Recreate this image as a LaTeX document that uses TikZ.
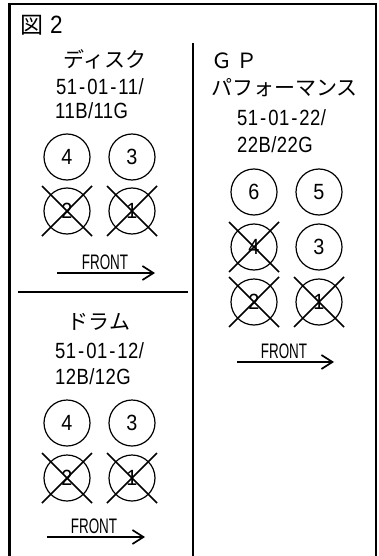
\documentclass[tikz,border=0pt]{standalone}
\usepackage{fontspec}
\setmainfont{Liberation Sans}
\newfontfamily\jp{Noto Sans CJK JP}
\newfontfamily\lat[FakeStretch=0.84,LetterSpace=2]{Liberation Sans}
\newfontfamily\dig[FakeStretch=0.9]{Liberation Sans}
\newfontfamily\fr[FakeStretch=0.64]{Liberation Sans}
\newcommand{\hy}{\hspace{2pt}-\hspace{2pt}}
\usetikzlibrary{arrows.meta}
\begin{document}
\begin{tikzpicture}[x=1pt,y=-1pt,
  frame/.style={line width=2.6pt},
  divider/.style={line width=1.3pt},
  hole/.style={circle,draw,line width=1.2pt,minimum size=46pt,inner sep=0pt,font=\dig\fontsize{22}{22}\selectfont},
  crossed/.style={hole,append after command={
     (\tikzlastnode.center) ++(-25,-25) edge[line width=1.5pt] ++(50,50)
     (\tikzlastnode.center) ++(25,-25) edge[line width=1.5pt] ++(-50,50)}},
  jptxt/.style={font=\jp\fontsize{21}{21}\selectfont,inner sep=0pt},
  num/.style={font=\lat\fontsize{22}{22}\selectfont,inner sep=0pt},
  fronttxt/.style={font=\fr\fontsize{21}{21}\selectfont,inner sep=0pt},
  arr/.style={line width=1.7pt,-{Straight Barb[length=11pt,width=14pt,line width=1.7pt]}}
]
\useasboundingbox (0,0) rectangle (379,556);
% frame
\coordinate (fbl) at (9.5,557);
\coordinate (ftl) at (9.5,4);
\coordinate (ftr) at (376,4);
\coordinate (fbr) at (376,557);
\draw[frame] (fbl) -- (ftl) -- (ftr) -- (fbr);
% header
\node[jptxt,font=\jp\fontsize{23}{23}\selectfont,anchor=west] (hdr) at (20,25) {図};
\node[num,font=\dig\fontsize{25}{25}\selectfont,anchor=west] (hdr2) at (50,25) {2};
% dividers
\coordinate (vd1) at (193,43);
\coordinate (vd2) at (193,557);
\draw[divider] (vd1) -- (vd2);
\coordinate (hd1) at (18,292);
\coordinate (hd2) at (188,292);
\draw[divider] (hd1) -- (hd2);

% left upper: disk
\node[jptxt] (t1) at (105,59) {ディスク};
\node[num,anchor=west] (t1a) at (56,87) {51\hy 01\hy 11/};
\node[num,anchor=west] (t1b) at (55,111) {11B/11G};
\node[hole] (d4) at (67,157) {4};
\node[hole] (d3) at (132,157) {3};
\node[crossed] (d2) at (67,211) {2};
\node[crossed] (d1) at (132,211) {1};
\node[fronttxt] (f1) at (105,262) {FRONT};
\coordinate (a1s) at (57,273);
\coordinate (a1e) at (155,273);
\draw[arr] (a1s) -- (a1e);

% left lower: drum
\node[jptxt] (t2) at (99,322) {ドラム};
\node[num,anchor=west] (t2a) at (55,351) {51\hy 01\hy 12/};
\node[num,anchor=west] (t2b) at (55,377) {12B/12G};
\node[hole] (r4) at (67,423) {4};
\node[hole] (r3) at (132,423) {3};
\node[crossed] (r2) at (67,478) {2};
\node[crossed] (r1) at (132,478) {1};
\node[fronttxt] (f2) at (94,526) {FRONT};
\coordinate (a2s) at (47,537);
\coordinate (a2e) at (145,537);
\draw[arr] (a2s) -- (a2e);

% right: GP
\node[jptxt,anchor=west] (t3) at (211,61) {Ｇ Ｐ};
\node[jptxt,anchor=west] (t3b) at (211,88) {パフォーマンス};
\node[num,anchor=west] (t3c) at (237,118) {51\hy 01\hy 22/};
\node[num,anchor=west] (t3d) at (237,145) {22B/22G};
\node[hole] (g6) at (254,192) {6};
\node[hole] (g5) at (319,192) {5};
\node[crossed] (g4) at (254,247) {4};
\node[hole] (g3) at (319,247) {3};
\node[crossed] (g2) at (254,302) {2};
\node[crossed] (g1) at (319,302) {1};
\node[fronttxt] (f3) at (284,351) {FRONT};
\coordinate (a3s) at (237,362);
\coordinate (a3e) at (334,362);
\draw[arr] (a3s) -- (a3e);
\end{tikzpicture}
\end{document}
